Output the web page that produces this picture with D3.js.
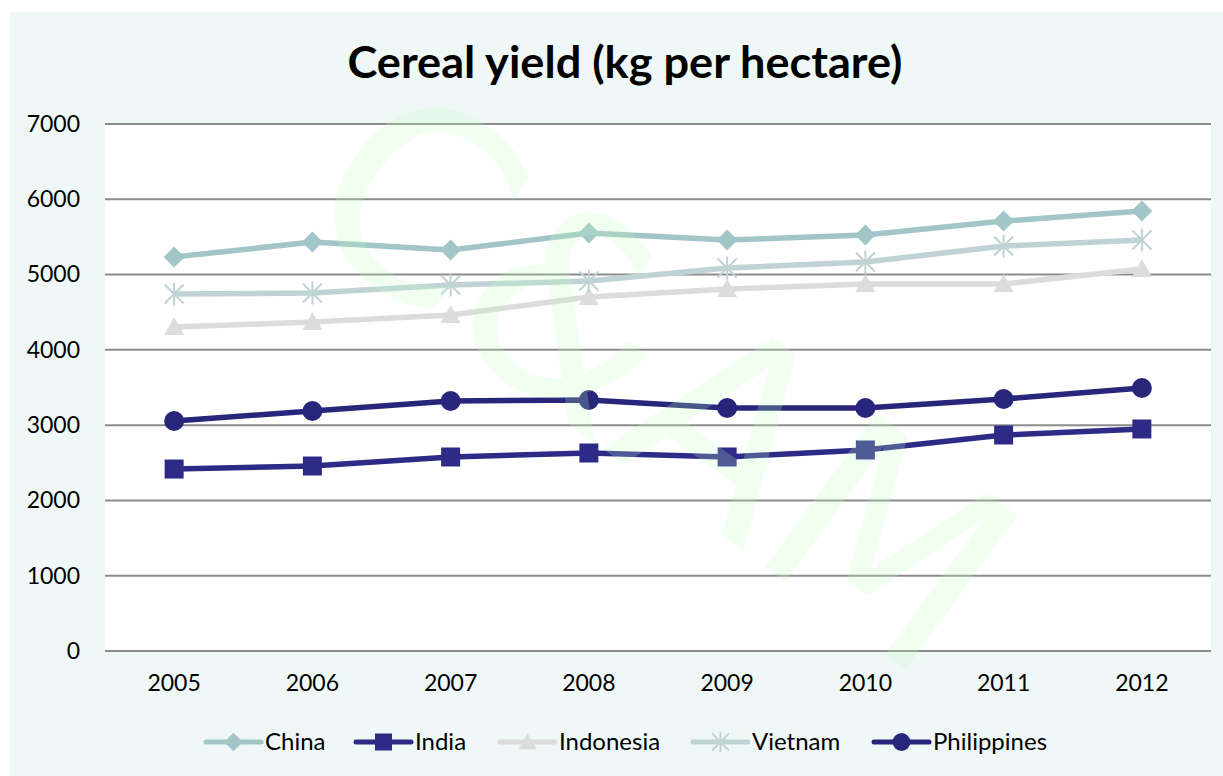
<!DOCTYPE html>
<html>
<head>
<meta charset="utf-8">
<script src="https://cdn.jsdelivr.net/npm/d3@7"></script>
<style>
  body { margin: 0; background: #fff; }
  text { font-family: Lato, "Open Sans", sans-serif; }
</style>
</head>
<body>
<div id="chart"></div>
<script>
const years = ["2005", "2006", "2007", "2008", "2009", "2010", "2011", "2012"];
const china = [5233, 5432, 5326, 5552, 5459, 5525, 5711, 5844];
const india = [2417, 2457, 2577, 2630, 2577, 2670, 2869, 2949];
const indonesia = [4303, 4370, 4463, 4702, 4808, 4875, 4875, 5074];
const vietnam = [4742, 4755, 4861, 4914, 5087, 5167, 5379, 5459];
const philippines = [3055, 3188, 3320, 3334, 3228, 3228, 3347, 3493];
const yTicks = [0, 1000, 2000, 3000, 4000, 5000, 6000, 7000];

const series = [
  { name: "China", values: china, color: "#a2c6c8", symbol: "diamond" },
  { name: "India", values: india, color: "#2e2b87", symbol: "square" },
  { name: "Indonesia", values: indonesia, color: "#dcdcdc", symbol: "triangle" },
  { name: "Vietnam", values: vietnam, color: "#bfd3d5", symbol: "star" },
  { name: "Philippines", values: philippines, color: "#28267b", symbol: "circle" }
];

const fullWidth = 1223;
const fullHeight = 776;
const margin = { top: 124, right: 12, bottom: 125, left: 105 };
const width = fullWidth - margin.left - margin.right;
const height = fullHeight - margin.top - margin.bottom;

const svg = d3.select("#chart")
  .append("svg")
  .attr("width", fullWidth)
  .attr("height", fullHeight);

// chart background
svg.append("rect")
  .attr("x", 10).attr("y", 12)
  .attr("width", fullWidth - 10).attr("height", fullHeight - 12)
  .attr("fill", "#eff8f6");

svg.append("text")
  .attr("x", 625).attr("y", 78)
  .attr("text-anchor", "middle")
  .attr("textLength", 555)
  .attr("lengthAdjust", "spacingAndGlyphs")
  .style("font-size", "43px")
  .style("font-weight", "bold")
  .attr("fill", "#000")
  .text("Cereal yield (kg per hectare)");

const g = svg.append("g")
  .attr("transform", `translate(${margin.left}, ${margin.top})`);

g.append("rect")
  .attr("width", width).attr("height", height)
  .attr("fill", "#fff");

const x = d3.scaleBand().domain(years).range([0, width]);
const y = d3.scaleLinear().domain([0, 7000]).range([height, 0]);

// gridlines
g.append("g")
  .selectAll("line")
  .data(yTicks)
  .enter()
  .append("line")
  .attr("x1", 0).attr("x2", width)
  .attr("y1", d => y(d)).attr("y2", d => y(d))
  .attr("stroke", "#8c8c8c")
  .attr("stroke-width", 2);

const yAxis = g.append("g")
  .call(d3.axisLeft(y).tickValues(yTicks).tickSize(0).tickPadding(25).tickFormat(d3.format("d")));
yAxis.select(".domain").remove();
yAxis.selectAll("text").style("font-size", "23px").attr("fill", "#000");

const xAxis = g.append("g")
  .attr("transform", `translate(0, ${height})`)
  .call(d3.axisBottom(x).tickSize(0).tickPadding(24));
xAxis.select(".domain").remove();
xAxis.selectAll("text").style("font-size", "23px").attr("fill", "#000");

const cx = d => x(d) + x.bandwidth() / 2;

const markerPath = (symbol, size) => {
  if (symbol === "diamond") {
    const s = size * 0.55;
    return `M0,${-s}L${s},0L0,${s}L${-s},0Z`;
  }
  if (symbol === "square") {
    const s = size / 2;
    return `M${-s},${-s}H${s}V${s}H${-s}Z`;
  }
  if (symbol === "triangle") {
    const s = size / 2;
    return `M0,${-s * 1.05}L${s * 1.05},${s * 0.85}L${-s * 1.05},${s * 0.85}Z`;
  }
  if (symbol === "star") {
    const s = size / 2;
    return `M${-s},${-s}L${s},${s}M${-s},${s}L${s},${-s}M0,${-s * 1.2}V${s * 1.2}`;
  }
  return d3.symbol(d3.symbolCircle, Math.PI * (size / 2) * (size / 2))();
};

const line = d3.line()
  .x((d, i) => cx(years[i]))
  .y(d => y(d));

series.forEach(s => {
  const grp = g.append("g");
  grp.append("path")
    .datum(s.values)
    .attr("d", line)
    .attr("fill", "none")
    .attr("stroke", s.color)
    .attr("stroke-width", 5.5)
    .attr("stroke-linejoin", "round");
  grp.selectAll(".marker")
    .data(s.values)
    .enter()
    .append("path")
    .attr("class", "marker")
    .attr("transform", (d, i) => `translate(${cx(years[i])}, ${y(d)})`)
    .attr("d", markerPath(s.symbol, s.symbol === "circle" ? 20 : 19))
    .attr("fill", s.symbol === "star" ? "none" : s.color)
    .attr("stroke", s.color)
    .attr("stroke-width", s.symbol === "star" ? 2 : 0);
});

// legend
const legendX = [206, 356, 500, 693, 874];
const legend = svg.append("g").attr("transform", "translate(0, 742)");
series.forEach((s, i) => {
  const item = legend.append("g").attr("transform", `translate(${legendX[i]}, 0)`);
  item.append("line")
    .attr("x1", 0).attr("x2", 55)
    .attr("stroke", s.color)
    .attr("stroke-width", 5)
    .attr("stroke-linecap", "round");
  item.append("path")
    .attr("transform", "translate(27.5, 0)")
    .attr("d", markerPath(s.symbol, s.symbol === "circle" ? 18 : 17))
    .attr("fill", s.symbol === "star" ? "none" : s.color)
    .attr("stroke", s.color)
    .attr("stroke-width", s.symbol === "star" ? 2 : 0);
  item.append("text")
    .attr("x", 59).attr("y", 8)
    .style("font-size", "24px")
    .attr("fill", "#000")
    .text(s.name);
});

// watermark
svg.append("text")
  .attr("transform", "translate(650, 395) rotate(36)")
  .attr("text-anchor", "middle")
  .attr("dominant-baseline", "middle")
  .style("font-family", "'DejaVu Sans', sans-serif")
  .style("font-size", "260px")
  .attr("fill", "#c0ffc0")
  .attr("opacity", 0.22)
  .text("C&AM");
</script>
</body>
</html>
